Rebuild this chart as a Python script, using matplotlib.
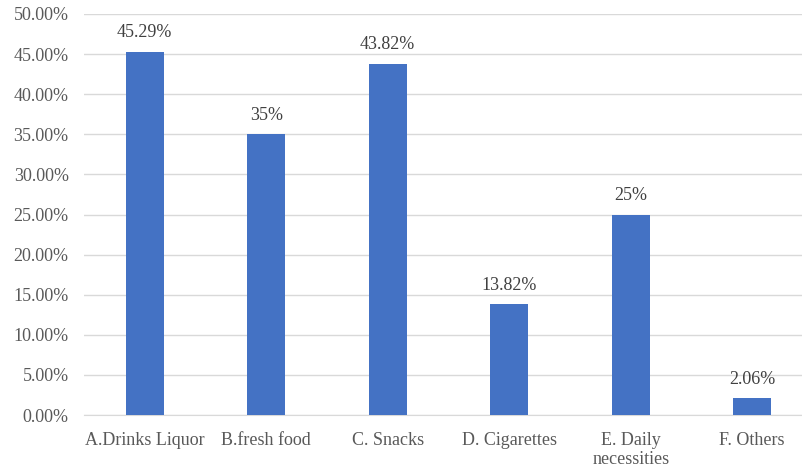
import matplotlib.pyplot as plt
from matplotlib.ticker import FuncFormatter

categories = ['A.Drinks Liquor', 'B.fresh food', 'C. Snacks', 'D. Cigarettes',
              'E. Daily\nnecessities', 'F. Others']
values = [45.29, 35, 43.82, 13.82, 25, 2.06]
labels = ['45.29%', '35%', '43.82%', '13.82%', '25%', '2.06%']

plt.rcParams['font.family'] = ['Liberation Serif', 'DejaVu Serif']

fig = plt.figure(figsize=(8.02, 4.68), dpi=100)
ax = fig.add_axes([84 / 802, 1 - 415 / 468, 1 - 84 / 802, 401 / 468])

x = range(len(categories))
ax.bar(x, values, width=0.31, color='#4472C4', zorder=3)
for xi, v, lab in zip(x, values, labels):
    ax.text(xi, v + 1.3, lab, ha='center', va='bottom', fontsize=13, color='#404040')

ax.set_ylim(0, 50)
ax.set_yticks(range(0, 51, 5))
ax.yaxis.set_major_formatter(FuncFormatter(lambda v, p: f'{v:.2f}%'))
ax.set_xlim(-0.5, 5.41)
ax.set_xticks(list(x))
ax.set_xticklabels(categories, linespacing=1.15)
ax.grid(axis='y', color='#D9D9D9', linewidth=1, zorder=0)
for s in ['top', 'right', 'left']:
    ax.spines[s].set_visible(False)
ax.spines['bottom'].set_color('#D9D9D9')
ax.tick_params(length=0, labelsize=13, colors='#595959')
ax.tick_params(axis='y', pad=11)
ax.tick_params(axis='x', pad=12)

fig.savefig('out.png', dpi=100)
